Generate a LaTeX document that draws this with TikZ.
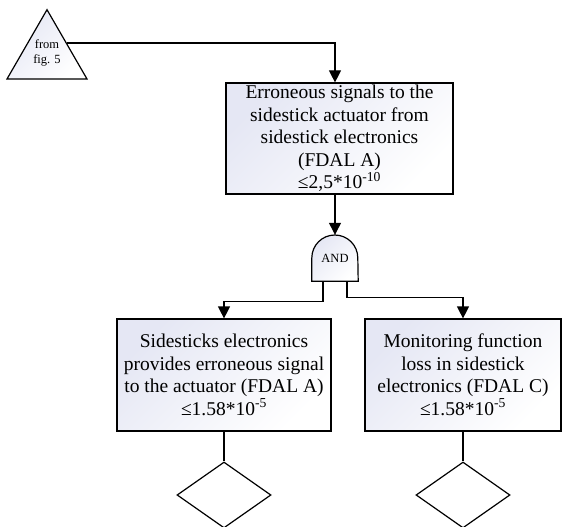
\documentclass[tikz,border=0pt]{standalone}
\usepackage{fontspec}
\setmainfont{Liberation Serif}
\usetikzlibrary{arrows.meta,shapes.geometric,calc,backgrounds}
\definecolor{shadeblue}{RGB}{229,231,244}
\tikzset{
  base/.style={draw=black, line width=1.2pt},
  softfill/.style={top color=shadeblue, bottom color=white, shading angle=45},
  event/.style={base, softfill, rectangle, align=center, inner sep=0pt,
    font=\fontsize{19.5}{22.5}\selectfont},
  transfer/.style={base, diamond, fill=white, minimum width=94pt,
    minimum height=66pt, inner sep=0pt},
  wire/.style={line width=1.2pt},
  arrowwire/.style={wire, -{Triangle[width=12pt,length=12pt]}},
  small/.style={font=\fontsize{12.5}{15}\selectfont},
}
\begin{document}
\begin{tikzpicture}[x=1pt,y=-1pt]
\useasboundingbox (0,0) rectangle (562,527);

% transfer-in triangle
\node[base, softfill, regular polygon, regular polygon sides=3,
      minimum size=92.4pt, inner sep=0pt] (src) at (47,55.9) {};
\node[small, align=center, inner sep=0pt] (srctext) at (47,52.5) {from\\fig. 5};
\coordinate (srcout) at (66.5,43);

% top event
\node[event, minimum width=227pt, minimum height=111pt] (top) at (339.5,138.5)
  {Erroneous signals to the\\sidestick actuator from\\sidestick electronics\\(FDAL A)\\≤2,5*10\textsuperscript{-10}};

% AND gate
\node[small, minimum width=46pt, minimum height=46pt, inner sep=0pt] (and) at (335,258) {AND};
\begin{scope}[on background layer]
  \draw[base, softfill] (and.south west) -- (and.west)
    arc[start angle=180, end angle=0, radius=23pt] -- (and.south east) -- cycle;
\end{scope}

% basic events
\node[event, minimum width=214pt, minimum height=112pt] (left) at (224,375)
  {Sidesticks electronics\\provides erroneous signal\\to the actuator (FDAL A)\\≤1.58*10\textsuperscript{-5}};
\node[event, minimum width=196pt, minimum height=112pt] (right) at (463,375)
  {Monitoring function\\loss in sidestick\\electronics (FDAL C)\\≤1.58*10\textsuperscript{-5}};

% undeveloped events
\node[transfer] (dl) at (224,495) {};
\node[transfer] (dr) at (463,495) {};

% connectors
\draw[arrowwire] (srcout) -| (and |- top.north);
\draw[arrowwire] (and |- top.south) -- (and.north);
\draw[arrowwire] ($(and.south)+(-12,0)$) -- ++(0,20) -| (left.north);
\draw[arrowwire] ($(and.south)+(12,0)$) -- ++(0,16) -| (right.north);
\draw[wire] (left) -- (dl);
\draw[wire] (right) -- (dr);
\end{tikzpicture}
\end{document}
